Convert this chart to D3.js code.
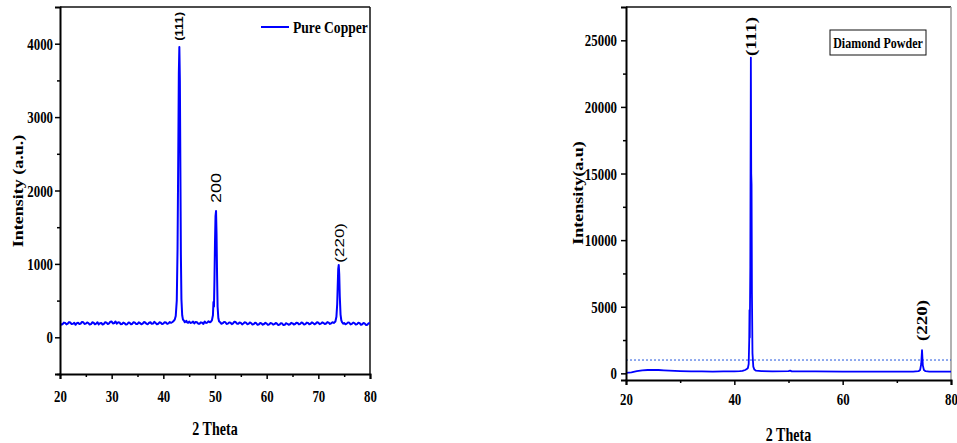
<!DOCTYPE html>
<html><head><meta charset="utf-8">
<script src="https://cdn.jsdelivr.net/npm/d3@7"></script>
<style>
body{margin:0;background:#fff;}
svg{display:block;}
</style></head>
<body><svg id="c" width="957" height="443"></svg>
<script>
// ---------- DATA ----------
// Pure Copper XRD pattern: [2theta, intensity]
const copperPattern = [
[20.0,190],[20.25,172],[20.5,178],[20.75,200],[21.0,196],[21.25,176],[21.5,185],[21.75,207],[22.0,201],[22.25,181],[22.5,183],[22.75,199],[23.0,170],[23.25,192],[23.5,198],[23.75,180],[24.0,188],[24.25,210],[24.5,205],[24.75,182],
[25.0,186],[25.25,203],[25.5,194],[25.75,175],[26.0,180],[26.25,204],[26.5,199],[26.75,178],[27.0,187],[27.25,205],[27.5,176],[27.75,193],[28.0,195],[28.25,174],[28.5,183],[28.75,206],[29.0,200],[29.25,181],[29.5,190],[29.75,212],
[30.0,214],[30.25,188],[30.5,195],[30.75,216],[31.0,186],[31.25,204],[31.5,203],[31.75,179],[32.0,181],[32.25,200],[32.5,192],[32.75,175],[33.0,178],[33.25,201],[33.5,197],[33.75,177],[34.0,185],[34.25,206],[34.5,200],[34.75,180],
[35.0,182],[35.25,204],[35.5,193],[35.75,178],[36.0,186],[36.25,208],[36.5,202],[36.75,183],[37.0,179],[37.25,199],[37.5,205],[37.75,184],[38.0,188],[38.25,210],[38.5,196],[38.75,177],[39.0,184],[39.25,204],[39.5,199],[39.75,181],
[40.0,187],[40.25,206],[40.5,201],[40.75,183],[41.0,190],[41.25,208],[41.5,197],[41.7,205],[41.9,215],[42.2,240],[42.4,290],[42.6,500],[42.75,1200],[42.9,2600],
[43.0,3600],[43.1,3955],[43.2,3500],[43.3,2300],[43.4,1100],[43.5,520],[43.65,300],[43.8,240],[44.0,225],[44.15,205],[44.3,212],
[44.45,225],[44.6,205],[44.8,198],[45.0,215],[45.25,196],[45.5,200],[45.75,214],[46.0,190],[46.25,208],[46.5,205],[46.75,186],[47.0,185],[47.25,204],[47.5,198],[47.75,182],[48.0,215],[48.25,196],[48.5,200],[48.75,218],[49.0,205],
[49.2,212],[49.4,230],[49.6,300],[49.7,480],[49.8,420],[49.9,800],[50.0,1300],[50.1,1650],[50.2,1720],[50.3,1400],[50.4,850],
[50.5,420],[50.65,260],[50.8,215],[51.0,205],[51.25,184],[51.5,192],[51.75,210],[52.0,205],[52.25,182],[52.5,186],[52.75,203],[53.0,198],[53.25,179],[53.5,190],[53.75,213],[54.0,208],
[54.25,186],[54.5,185],[54.75,202],[55.0,196],[55.25,176],[55.5,188],[55.75,204],[56.0,200],[56.25,179],[56.5,183],[56.75,201],[57.0,194],[57.25,174],[57.5,180],[57.75,198],[58.0,191],[58.25,170],[58.5,177],[58.75,195],[59.0,189],
[59.25,172],[59.5,181],[59.75,197],[60.0,186],[60.25,169],[60.5,176],[60.75,194],[61.0,190],[61.25,172],[61.5,179],[61.75,196],[62.0,185],[62.25,168],[62.5,173],[62.75,193],[63.0,188],[63.25,166],[63.5,170],[63.75,192],[64.0,184],
[64.25,171],[64.5,178],[64.75,197],[65.0,190],[65.25,174],[65.5,181],[65.75,199],[66.0,194],[66.25,176],[66.5,183],[66.75,202],[67.0,192],[67.25,175],[67.5,180],[67.75,200],[68.0,196],[68.25,178],[68.5,185],[68.75,203],[69.0,193],
[69.25,177],[69.5,187],[69.75,205],[70.0,198],[70.25,179],[70.5,186],[70.75,204],[71.0,195],[71.25,180],[71.5,188],[71.75,207],[72.0,200],[72.25,182],[72.5,190],[72.75,206],[73.0,196],[73.15,205],[73.3,215],[73.5,280],
[73.65,450],[73.75,700],[73.85,930],[73.95,985],[74.05,850],[74.15,560],[74.3,310],[74.45,230],[74.6,205],[74.8,186],[75.0,195],
[75.25,178],[75.5,186],[75.75,203],[76.0,198],[76.25,176],[76.5,184],[76.75,200],[77.0,193],[77.25,173],[77.5,180],[77.75,199],[78.0,192],[78.25,171],[78.5,178],[78.75,196],[79.0,186],[79.25,168],[79.5,172],[79.75,193],[80.0,190]
];
// Diamond Powder XRD pattern: [2theta, intensity]
const diamondPattern = [
[20.0,40],[21.0,80],[22.0,160],[23.0,220],[24.0,250],[25.0,260],[26.0,250],[27.0,225],[28.0,200],[29.0,180],
[30.0,165],[32.0,150],[34.0,140],[36.0,135],[38.0,140],[39.0,150],[40.0,150],[41.0,160],[41.5,180],[42.0,250],
[42.3,320],[42.5,400],[42.65,700],[42.75,2500],[42.8,4750],[42.85,2700],[42.95,8000],[43.05,23700],[43.12,15000],[43.18,14150],
[43.25,6000],[43.35,1500],[43.5,500],[43.7,280],[44.0,200],[45.0,170],[47.0,150],[50.0,160],[50.3,200],[50.6,150],
[55.0,140],[60.0,130],[65.0,130],[70.0,125],[73.0,130],[74.0,160],[74.3,250],[74.5,700],[74.65,1750],[74.8,600],
[75.0,250],[75.3,160],[76.0,130],[80.0,130]
];
const diamondRefLevel = 1000;

const copperXTicks = [20,30,40,50,60,70,80];
const copperXMinor = [25,35,45,55,65,75];
const copperYTicks = [0,1000,2000,3000,4000];
const copperYMinor = [-500,500,1500,2500,3500];
const diamondXTicks = [20,40,60,80];
const diamondXMinor = [30,50,70];
const diamondYTicks = [0,5000,10000,15000,20000,25000];
const diamondYMinor = [2500,7500,12500,17500,22500];

const copperPeaks = [
  {theta:43.1, label:"(111)", top:12, font:"Liberation Sans", weight:"bold", size:13},
  {theta:50.2, label:"200", top:173, font:"Liberation Sans", weight:"normal", size:18},
  {theta:73.95, label:"(220)", top:223, font:"Liberation Sans", weight:"normal", size:17}
];
const diamondPeaks = [
  {theta:43.1, label:"(111)", top:17, font:"Liberation Serif", weight:"bold", size:19},
  {theta:74.65, label:"(220)", top:300, font:"Liberation Serif", weight:"bold", size:19}
];

// ---------- DRAW ----------
const SX = 0.78;
const svg = d3.select("#c");
const SERIF = "'Liberation Serif','Times New Roman',serif";

function panel(o){
  const g = svg.append("g");
  const x = d3.scaleLinear().domain([20,80]).range([o.x0,o.x1]);
  const y = d3.scaleLinear().domain(o.yDom).range([o.yb,o.yt]);

  g.append("line").attr("x1",o.x0).attr("x2",o.x1).attr("y1",o.yt).attr("y2",o.yt)
    .attr("stroke","#111").attr("stroke-width",1.5);
  g.append("line").attr("x1",o.x1).attr("x2",o.x1).attr("y1",o.yt).attr("y2",o.yb)
    .attr("stroke",o.rightColor).attr("stroke-width",1.5);

  const cid = "clip"+o.id;
  svg.append("clipPath").attr("id",cid).append("rect")
    .attr("x",o.x0).attr("y",o.yt).attr("width",o.x1-o.x0).attr("height",o.yb-o.yt);

  if (o.ref!=null){
    g.append("line").attr("x1",o.x0).attr("x2",o.x1).attr("y1",y(o.ref)).attr("y2",y(o.ref))
      .attr("stroke","#2255dd").attr("stroke-width",1).attr("stroke-dasharray","2,2");
  }

  g.append("path").datum(o.data).attr("clip-path",`url(#${cid})`)
    .attr("fill","none").attr("stroke","#0000ff").attr("stroke-width",o.lw)
    .attr("stroke-linejoin","round")
    .attr("d", d3.line().x(d=>x(d[0])).y(d=>y(d[1])));

  const ax = g.append("g").attr("transform",`translate(0,${o.yb})`)
    .call(d3.axisBottom(x).tickValues(o.xt).tickSize(5).tickFormat(d3.format("d")));
  g.append("g").attr("transform",`translate(0,${o.yb})`)
    .call(d3.axisBottom(x).tickValues(o.xm).tickSize(3).tickFormat(""))
    .select(".domain").remove();
  const ay = g.append("g").attr("transform",`translate(${o.x0},0)`)
    .call(d3.axisLeft(y).tickValues(o.yt_).tickSize(5).tickFormat(d3.format("d")));
  g.append("g").attr("transform",`translate(${o.x0},0)`)
    .call(d3.axisLeft(y).tickValues(o.ym).tickSize(3).tickFormat(""))
    .select(".domain").remove();

  [ax,ay].forEach(a=>{
    a.select(".domain").attr("stroke","#000").attr("stroke-width",2);
  });
  g.selectAll(".tick line").attr("stroke","#000").attr("stroke-width",1.5);
  ax.selectAll("text").attr("font-family",SERIF).attr("font-weight","bold")
    .attr("font-size",16.5).attr("fill","#000").attr("transform",`scale(${SX},1)`)
    .attr("y",o.xLabDy).attr("dy","0");
  ay.selectAll("text").attr("font-family",SERIF).attr("font-weight","bold")
    .attr("font-size",16.5).attr("fill","#000").attr("transform",`scale(${SX},1)`)
    .attr("x",-o.yLabGap/SX).attr("dy","0.34em");

  g.append("text").attr("transform",`translate(${(o.x0+o.x1)/2},${o.xTitleY}) scale(${SX},1)`)
    .attr("text-anchor","middle").attr("font-family",SERIF).attr("font-weight","bold")
    .attr("font-size",18).text("2 Theta");
  g.append("text").attr("transform",`translate(${o.yTitleX},${o.yTitleC}) scale(${SX},1) rotate(-90)`)
    .attr("text-anchor","middle").attr("font-family",SERIF).attr("font-weight","bold")
    .attr("font-size",18).attr("dy","0.35em").text(o.yTitle);

  o.peaks.forEach(p=>{
    g.append("text").attr("transform",`translate(${x(p.theta)},${p.top}) scale(${SX},1) rotate(-90)`)
      .attr("text-anchor","end").attr("dy","0.36em")
      .attr("font-family",`'${p.font}',sans-serif`).attr("font-weight",p.weight)
      .attr("font-size",p.size).attr("fill","#000").text(p.label);
  });
  return {g,x,y};
}

const L = panel({id:"L", x0:60, x1:370, yt:7, yb:374, yDom:[-500,4500], data:copperPattern, lw:2,
  xt:copperXTicks, xm:copperXMinor, yt_:copperYTicks, ym:copperYMinor, rightColor:"#111",
  xLabDy:28, yLabGap:7, xTitleY:435, yTitleX:18, yTitleC:191, yTitle:"Intensity (a.u.)",
  peaks:copperPeaks, ref:null});

const R = panel({id:"R", x0:626, x1:951, yt:7, yb:380, yDom:[-500,27500], data:diamondPattern, lw:1.8,
  xt:diamondXTicks, xm:diamondXMinor, yt_:diamondYTicks, ym:diamondYMinor, rightColor:"#999",
  xLabDy:25, yLabGap:9, xTitleY:441, yTitleX:578, yTitleC:193, yTitle:"Intensity(a.u)",
  peaks:diamondPeaks, ref:diamondRefLevel});

L.g.append("line").attr("x1",261).attr("x2",289).attr("y1",27).attr("y2",27)
  .attr("stroke","#0000ff").attr("stroke-width",2);
L.g.append("text").attr("transform","translate(293,33) scale(0.8,1)")
  .attr("font-family",SERIF).attr("font-weight","bold").attr("font-size",17).text("Pure Copper");

R.g.append("rect").attr("x",830).attr("y",30).attr("width",96).attr("height",25)
  .attr("fill","#fff").attr("stroke","#111").attr("stroke-width",1);
R.g.append("text").attr("transform","translate(878,48) scale(0.8,1)").attr("text-anchor","middle")
  .attr("font-family",SERIF).attr("font-weight","bold").attr("font-size",15).text("Diamond Powder");
</script></body></html>
